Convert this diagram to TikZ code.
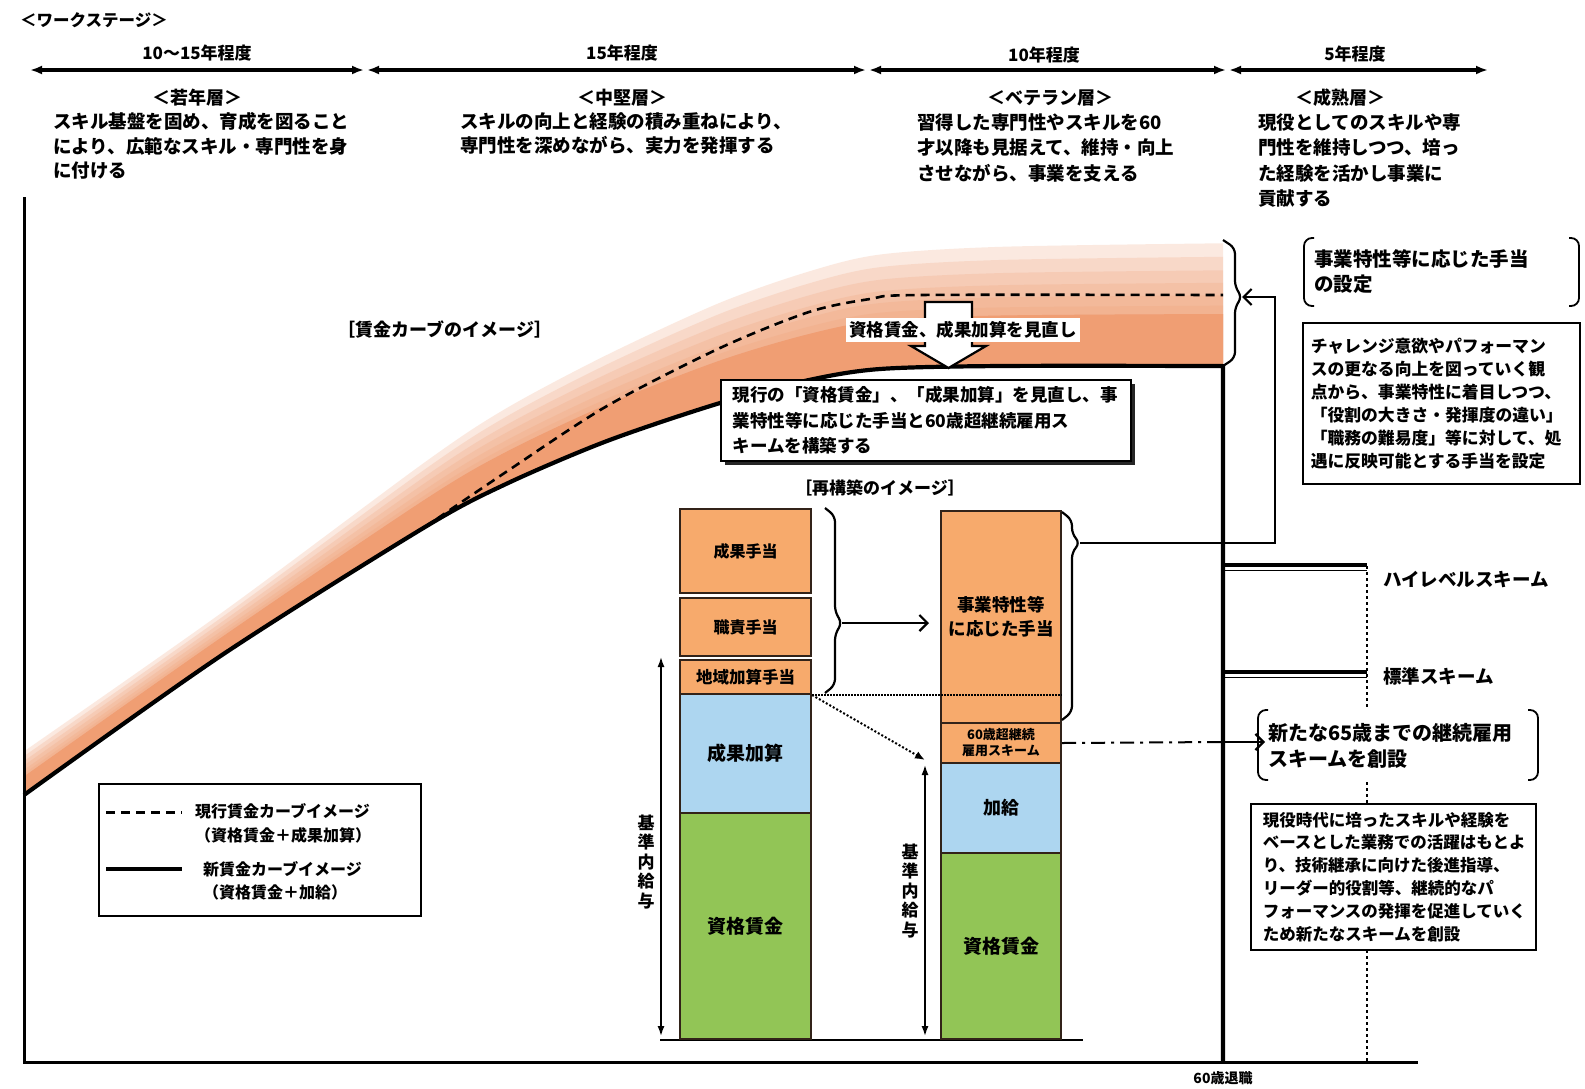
\documentclass[tikz,border=0pt]{standalone}
\usepackage{fontspec}
\setmainfont{Noto Sans CJK JP}
\usetikzlibrary{arrows.meta}
\definecolor{bandc}{RGB}{240,158,115}
\definecolor{orng}{RGB}{247,170,108}
\definecolor{blu}{RGB}{173,214,240}
\definecolor{grn}{RGB}{146,197,86}
\definecolor{barln}{RGB}{50,35,25}
\newcommand\fz[2]{\fontsize{#1}{#2}\selectfont\bfseries}
\newcommand\bandpath[1]{plot[smooth] coordinates {(24,795) (222,655) (425,527) (506,484) (607,441) (720,403) (809,380) (880,369) (1000,366) (1223,366)} -- plot[smooth] coordinates {(1223,{366-#1*104}) (1000,{366-#1*101}) (880,{369-#1*97}) (809,{380-#1*92}) (720,{403-#1*85}) (607,{441-#1*73}) (506,{484-#1*64}) (425,{527-#1*55}) (222,{655-#1*36}) (24,{795-#1*37})} -- cycle}
\begin{document}
\begin{tikzpicture}[x=1pt,y=-1pt,
  lbl/.style={inner sep=0, font=\fz{17}{20}},
  para/.style={inner sep=0, anchor=north west, align=left},
  bar/.style={draw=barln, line width=2, inner sep=0, anchor=north west},
  stagearr/.style={line width=4.5, {Latex[length=12pt,width=9pt]}-{Latex[length=12pt,width=9pt]}},
  openarr/.style={-{Straight Barb[length=8pt,width=16pt,line width=2.2pt]}},
  tbox/.style={draw, line width=1.5, fill=white, anchor=north west, align=left},
]
\useasboundingbox (0,0) rectangle (1585,1088);
\fill[white] (0,0) rectangle (1585,1088);

% ---------- work stage header ----------
\node[lbl, anchor=west, font=\fz{16.5}{20}] (ws) at (20,20) {＜ワークステージ＞};
\coordinate (a0) at (30,70);  \coordinate (a1) at (364,70);
\coordinate (a2) at (367,70); \coordinate (a3) at (866,70);
\coordinate (a4) at (869,70); \coordinate (a5) at (1226,70);
\coordinate (a6) at (1229,70);\coordinate (a7) at (1488,70);
\draw[stagearr] (a0) -- (a1);
\draw[stagearr] (a2) -- (a3);
\draw[stagearr] (a4) -- (a5);
\draw[stagearr] (a6) -- (a7);
\node[lbl] (p1) at (197,53) {10～15年程度};
\node[lbl] (p2) at (622,53) {15年程度};
\node[lbl] (p3) at (1044,55) {10年程度};
\node[lbl] (p4) at (1355,54) {5年程度};
\node[lbl, font=\fz{18}{20}] (g1) at (197,98) {＜若年層＞};
\node[lbl, font=\fz{18}{20}] (g2) at (622,98) {＜中堅層＞};
\node[lbl, font=\fz{18}{20}] (g3) at (1050,98) {＜ベテラン層＞};
\node[lbl, font=\fz{18}{20}] (g4) at (1340,98) {＜成熟層＞};
\node[para, font=\fz{18.5}{24.7}] (d1) at (53,112) {スキル基盤を固め、育成を図ること\\により、広範なスキル・専門性を身\\に付ける};
\node[para, font=\fz{18.5}{24.7}] (d2) at (460,112) {スキルの向上と経験の積み重ねにより、\\専門性を深めながら、実力を発揮する};
\node[para, font=\fz{18.5}{25.5}] (d3) at (917,113) {習得した専門性やスキルを60\\才以降も見据えて、維持・向上\\させながら、事業を支える};
\node[para, font=\fz{18.5}{25.5}] (d4) at (1258,113) {現役としてのスキルや専\\門性を維持しつつ、培っ\\た経験を活かし事業に\\貢献する};

% ---------- wage band ----------
\fill[bandc] \bandpath{0.5};
\foreach \t in {1.18,1.05,0.92,0.8,0.68,0.58} {\fill[bandc, opacity=0.22] \bandpath{\t};}

% axes
\draw[line width=3] (24,197) -- (24,1062) -- (1418,1062);

% dashed (current) curve
\draw[line width=2.6, dash pattern=on 9pt off 6pt] plot[smooth] coordinates {(425,527) (506,472) (607,406) (720,348) (809,312) (870,299) (920,295) (1223,295)};
% solid (new) curve and 60 retirement line
\draw[line width=4.2, line join=round] plot[smooth] coordinates {(24,795) (222,655) (425,527) (506,484) (607,441) (720,403) (809,380) (880,369) (1000,366) (1223,366)} -- (1223,1062);
\node[lbl, font=\fz{14}{16}] (ret) at (1223,1078) {60歳退職};

\node[lbl, font=\fz{18}{20}] (cv) at (445,330) {［賃金カーブのイメージ］};

% block arrow
\draw[line width=2.2, fill=white] (925,302) -- (972,302) -- (972,346) -- (986,346) -- (948.5,368) -- (911,346) -- (925,346) -- cycle;
\node[fill=white, inner sep=3, font=\fz{17.5}{19}] (rev) at (963,330) {資格賃金、成果加算を見直し};

% box
\fill[black!85] (725,384) rectangle (1135,465);
\node[tbox, text width=386pt, inner xsep=12pt, inner ysep=4pt, minimum height=81pt, font=\fz{17.5}{25.3}] (gk) at (720,379) {現行の「資格賃金」、「成果加算」を見直し、事\\業特性等に応じた手当と60歳超継続雇用ス\\キームを構築する};

% legend
\node[draw, line width=1.5, fill=white, anchor=north west, minimum width=322pt, minimum height=132pt, inner sep=0] (legend) at (98,783) {};
\draw[line width=3, dash pattern=on 9pt off 6pt] (106,812) -- (182,812);
\draw[line width=4.2] (106,869) -- (182,869);
\node[para, anchor=west, font=\fz{16}{23.5}] (lg1) at (195,823.5) {現行賃金カーブイメージ\\（資格賃金＋成果加算）};
\node[para, anchor=west, font=\fz{16}{23.5}] (lg2) at (203,881) {新賃金カーブイメージ\\（資格賃金＋加給）};

% ---------- restructuring image ----------
\node[lbl, font=\fz{17}{20}] (rk) at (880,488) {［再構築のイメージ］};
\draw[line width=1.5] (660,1040) -- (1083,1040);

\node[bar, fill=orng, minimum width=131pt, minimum height=84pt, font=\fz{16}{18}] (l1) at (679,508) {成果手当};
\node[bar, fill=orng, minimum width=131pt, minimum height=58pt, font=\fz{16}{18}] (l2) at (679,597) {職責手当};
\node[bar, fill=orng, minimum width=131pt, minimum height=34pt, font=\fz{16.5}{18}] (l3) at (679,659) {地域加算手当};
\node[bar, fill=blu, minimum width=131pt, minimum height=119pt, font=\fz{19}{21}] (l4) at (679,693) {成果加算};
\node[bar, fill=grn, minimum width=131pt, minimum height=226pt, font=\fz{19}{21}] (l5) at (679,812) {資格賃金};

\node[bar, fill=orng, minimum width=120pt, minimum height=212pt, align=center, font=\fz{17.5}{23.5}] (r1) at (940,510) {事業特性等\\に応じた手当};
\node[bar, fill=orng, minimum width=120pt, minimum height=40pt, align=center, font=\fz{13}{16}] (r2) at (940,722) {60歳超継続\\雇用スキーム};
\node[bar, fill=blu, minimum width=120pt, minimum height=90pt, font=\fz{18}{20}] (r3) at (940,762) {加給};
\node[bar, fill=grn, minimum width=120pt, minimum height=186pt, font=\fz{19}{21}] (r4) at (940,852) {資格賃金};

% dotted lines
\draw[line width=1.2, dash pattern=on 1.5pt off 1.5pt] (l3.south east) -- (r1.east |- l3.south east);
\coordinate (krtop) at (925,760);
\draw[line width=2, dash pattern=on 2pt off 2pt, -{Latex[length=10pt,width=8pt]}] (l3.south east) -- (krtop);

% kijunnai arrows
\node[inner sep=0, align=center, font=\fz{17}{19.5}] (kl) at (646,862) {基\\準\\内\\給\\与};
\node[inner sep=0, align=center, font=\fz{17}{19.5}] (kr) at (910,891) {基\\準\\内\\給\\与};
\coordinate (klt) at (661,657); \coordinate (klb) at (661,1036);
\coordinate (krt) at (925,765); \coordinate (krb) at (925,1036);
\draw[line width=1.5, {Latex[length=10pt,width=7pt]}-{Latex[length=10pt,width=7pt]}] (klt) -- (klb);
\draw[line width=1.5, {Latex[length=10pt,width=7pt]}-{Latex[length=10pt,width=7pt]}] (krt) -- (krb);

% left brace and arrow
\draw[line width=2.2, rounded corners=6pt] (825,508) -- (835,516) -- (835,612) -- (842,623) -- (835,634) -- (835,685) -- (825,693);
\coordinate (lbt) at (842,623);
\draw[line width=2.6, openarr, shorten >=11pt] (lbt) -- (r1.west |- lbt);

% right brace of r1 and connector to upper brace
\draw[line width=2.2, rounded corners=6pt] (1062,512) -- (1072,520) -- (1072,534) -- (1080,543) -- (1072,552) -- (1072,712) -- (1062,720);
\coordinate (rbt) at (1080,543);
\coordinate (ubt) at (1242,297);
\draw[line width=2.2, rounded corners=6pt] (1223,240) -- (1235,248) -- (1235,287) -- (1242,297) -- (1235,307) -- (1235,358) -- (1223,366);
\draw[line width=2.6, openarr] (rbt) -- (1275,543) -- (1275,297) -- (ubt);

% ---------- right side ----------
\draw[line width=1.5, dash pattern=on 3pt off 3pt] (1367,566) -- (1367,1062);
\coordinate (hl0) at (1223,565); \coordinate (hl1) at (1367,565);
\coordinate (st0) at (1223,672); \coordinate (st1) at (1367,672);
\draw[line width=3.8] (hl0) -- (hl1);
\draw[line width=1.2] ([yshift=-5.5pt]hl0) -- ([yshift=-5.5pt]hl1);
\draw[line width=3.8] (st0) -- (st1);
\draw[line width=1.2] ([yshift=-5.5pt]st0) -- ([yshift=-5.5pt]st1);
\node[lbl, anchor=west, font=\fz{18.5}{20}] (hl) at (1383,580) {ハイレベルスキーム};
\node[lbl, anchor=west, font=\fz{18.5}{20}] (st) at (1383,676) {標準スキーム};

% bracket box 1
\node[para, font=\fz{19.5}{25}] (rb1) at (1314,249) {事業特性等に応じた手当\\の設定};
\draw[line width=1.8, rounded corners=8pt] (1314,238) -- (1304,238) -- (1304,306) -- (1314,306);
\draw[line width=1.8, rounded corners=8pt] (1569,238) -- (1579,238) -- (1579,306) -- (1569,306);
% box 2
\node[tbox, text width=261pt, inner xsep=8pt, inner ysep=4pt, minimum height=161pt, font=\fz{16.8}{23}] (rb2) at (1302,322) {チャレンジ意欲やパフォーマン\\スの更なる向上を図っていく観\\点から、事業特性に着目しつつ、\\「役割の大きさ・発揮度の違い」\\「職務の難易度」等に対して、処\\遇に反映可能とする手当を設定};

% bracket box 3
\fill[white] (1258,710) rectangle (1538,780);
\node[para, font=\fz{20}{26}] (rb3) at (1268,723) {新たな65歳までの継続雇用\\スキームを創設};
\draw[line width=1.8, rounded corners=8pt] (1268,710) -- (1258,710) -- (1258,780) -- (1268,780);
\draw[line width=1.8, rounded corners=8pt] (1528,710) -- (1538,710) -- (1538,780) -- (1528,780);
\coordinate (r2e) at (1223,742);
\draw[line width=2, dash pattern=on 14pt off 6pt on 3pt off 6pt] (r2.east) -- (r2e);
\draw[line width=2.6, openarr, shorten >=3pt] (r2e) -- (rb3.west |- r2e);

% box 4
\node[tbox, text width=261pt, inner xsep=12pt, inner ysep=4pt, minimum height=146pt, font=\fz{16.5}{22.8}] (rb4) at (1250,803) {現役時代に培ったスキルや経験を\\ベースとした業務での活躍はもとよ\\り、技術継承に向けた後進指導、\\リーダー的役割等、継続的なパ\\フォーマンスの発揮を促進していく\\ため新たなスキームを創設};
\end{tikzpicture}
\end{document}
